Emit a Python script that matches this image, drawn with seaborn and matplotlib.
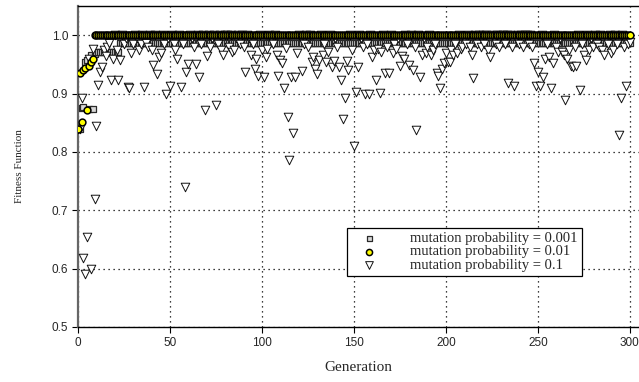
import numpy as np
import pandas as pd
import matplotlib
matplotlib.use('Agg')
import matplotlib.pyplot as plt
import seaborn as sns

# best fitness per generation
sq_fitness = ([0.840, 0.840, 0.875, 0.877, 0.954, 0.958, 0.873, 0.966, 0.873, 0.968]
              + [0.972] * 13 + [0.986] * 278)
circ_fitness = ([0.840, 0.935, 0.851, 0.940, 0.944, 0.872, 0.947, 0.954, 0.959]
                + [1.000] * 292)
tri_fitness = [
    0.840, 0.840, 0.892, 0.619, 0.591, 0.654, 0.960, 0.599, 0.977, 0.720,
    0.845, 0.914, 0.937, 0.946, 0.975, 0.965, 0.980, 0.987, 0.923, 0.960,
    1.000, 0.975, 0.923, 0.957, 1.000, 0.985, 0.995, 0.911, 0.910, 0.969,
    0.985, 1.000, 0.995, 0.975, 0.985, 1.000, 0.911, 0.986, 0.980, 1.000,
    0.975, 0.949, 1.000, 0.934, 0.963, 0.970, 1.000, 0.985, 0.900, 0.995,
    0.913, 1.000, 0.985, 0.975, 0.959, 1.000, 0.911, 0.985, 0.740, 0.937,
    0.950, 1.000, 0.995, 0.980, 0.950, 1.000, 0.928, 0.985, 1.000, 0.872,
    0.964, 1.000, 0.980, 0.995, 1.000, 0.881, 0.985, 1.000, 0.975, 0.966,
    1.000, 1.000, 0.980, 1.000, 0.971, 0.975, 0.995, 1.000, 0.985, 1.000,
    0.980, 0.937, 1.000, 0.995, 0.966, 0.985, 0.943, 0.960, 0.930, 1.000,
    0.975, 0.928, 0.963, 0.977, 1.000, 0.995, 0.985, 1.000, 0.966, 0.930,
    0.958, 0.952, 0.909, 0.978, 0.860, 0.786, 0.928, 0.832, 0.928, 0.969,
    1.000, 0.995, 0.939, 0.985, 1.000, 0.980, 1.000, 0.954, 0.962, 0.943,
    0.934, 0.957, 1.000, 0.967, 0.985, 0.954, 0.971, 1.000, 0.946, 0.956,
    0.995, 0.980, 0.946, 0.923, 0.856, 0.893, 0.956, 0.941, 1.000, 0.974,
    0.810, 0.902, 0.946, 1.000, 0.995, 0.980, 0.900, 0.985, 0.900, 1.000,
    0.963, 0.975, 0.924, 0.977, 0.901, 0.971, 1.000, 0.935, 0.980, 0.935,
    1.000, 0.969, 0.985, 0.977, 0.995, 0.947, 0.964, 0.960, 1.000, 0.985,
    0.949, 1.000, 0.940, 0.980, 0.837, 1.000, 0.928, 0.966, 0.995, 0.969,
    0.980, 1.000, 0.966, 0.975, 0.985, 0.935, 0.930, 0.909, 0.943, 0.952,
    0.969, 0.954, 0.954, 0.975, 0.966, 0.985, 0.969, 1.000, 0.977, 0.980,
    0.995, 0.985, 1.000, 0.980, 0.966, 0.926, 1.000, 0.985, 1.000, 0.980,
    1.000, 0.985, 1.000, 0.975, 0.963, 1.000, 0.995, 0.985, 1.000, 0.980,
    1.000, 1.000, 0.985, 1.000, 0.918, 1.000, 0.980, 0.913, 0.995, 1.000,
    0.985, 1.000, 0.980, 1.000, 1.000, 0.985, 1.000, 0.980, 0.953, 0.913,
    0.937, 0.913, 1.000, 0.929, 0.960, 0.985, 0.963, 0.910, 0.952, 1.000,
    0.980, 0.971, 0.995, 0.971, 0.966, 0.889, 0.960, 0.975, 0.947, 0.946,
    0.980, 0.947, 1.000, 0.907, 0.985, 0.966, 0.957, 1.000, 0.975, 0.995,
    0.980, 1.000, 0.985, 0.980, 1.000, 0.975, 0.967, 0.995, 0.985, 1.000,
    0.969, 0.975, 1.000, 0.985, 0.829, 0.892, 1.000, 0.980, 0.913, 0.985,
    0.988,
]
generations = np.arange(len(tri_fitness))

labels = ['mutation probability = 0.001',
          'mutation probability = 0.01',
          'mutation probability = 0.1']

df = pd.DataFrame({
    'Generation': np.concatenate([generations, generations, generations]),
    'Fitness': np.concatenate([sq_fitness, circ_fitness, tri_fitness]),
    'series': np.repeat(labels, len(generations)),
})

sns.set_style('white')
plt.rcParams['font.family'] = ['Liberation Sans', 'DejaVu Sans']

fig = plt.figure(figsize=(6.39, 3.82), dpi=100)
ax = fig.add_axes([0.122, 0.144, 0.878, 0.840])

styles = {
    labels[0]: dict(marker='s', s=16, color='#d8d8d8', edgecolor='#2a2a2a',
                    linewidth=0.9, zorder=3),
    labels[1]: dict(marker='o', s=24, color='#ffff00', edgecolor='#000000',
                    linewidth=1.1, zorder=5),
    labels[2]: dict(marker='v', s=38, color='white', edgecolor='#111111',
                    linewidth=0.7, zorder=4),
}
for lab in labels:
    sns.scatterplot(data=df[df['series'] == lab], x='Generation', y='Fitness',
                    ax=ax, label=lab, **styles[lab])

ax.set_xlim(0, 305)
ax.set_ylim(0.5, 1.05)
ax.set_xticks([0, 50, 100, 150, 200, 250, 300])
ax.set_yticks([0.5, 0.6, 0.7, 0.8, 0.9, 1.0])
ax.set_yticklabels(['0.5', '0.6', '0.7', '0.8', '0.9', '1.0'])
ax.tick_params(axis='both', labelsize=8.5, direction='out', length=4,
               width=0.8, color='black', left=True, bottom=True, pad=3)
ax.grid(True, linestyle=(0, (1, 3)), color='black', linewidth=0.9)
ax.set_axisbelow(True)

ax.spines['right'].set_visible(False)
ax.spines['left'].set_color('#666666')
ax.spines['left'].set_linewidth(1.6)
ax.spines['bottom'].set_color('black')
ax.spines['bottom'].set_linewidth(1.0)
ax.spines['top'].set_color('black')
ax.spines['top'].set_linewidth(1.0)

ax.set_xlabel('Generation', family='Liberation Serif', fontsize=11, labelpad=9)
ax.set_ylabel('Fitness Function', family='Liberation Serif', fontsize=8, labelpad=20)

leg = ax.legend(loc='lower left', bbox_to_anchor=(0.48, 0.159), borderaxespad=0,
                frameon=True, fancybox=False, edgecolor='black', framealpha=1,
                prop={'family': 'Liberation Serif', 'size': 10.5},
                handletextpad=1.6, handlelength=2.4, borderpad=0.3,
                labelspacing=0.0, markerscale=0.9)
leg.get_frame().set_linewidth(0.9)

fig.savefig('out.png', dpi=100)
